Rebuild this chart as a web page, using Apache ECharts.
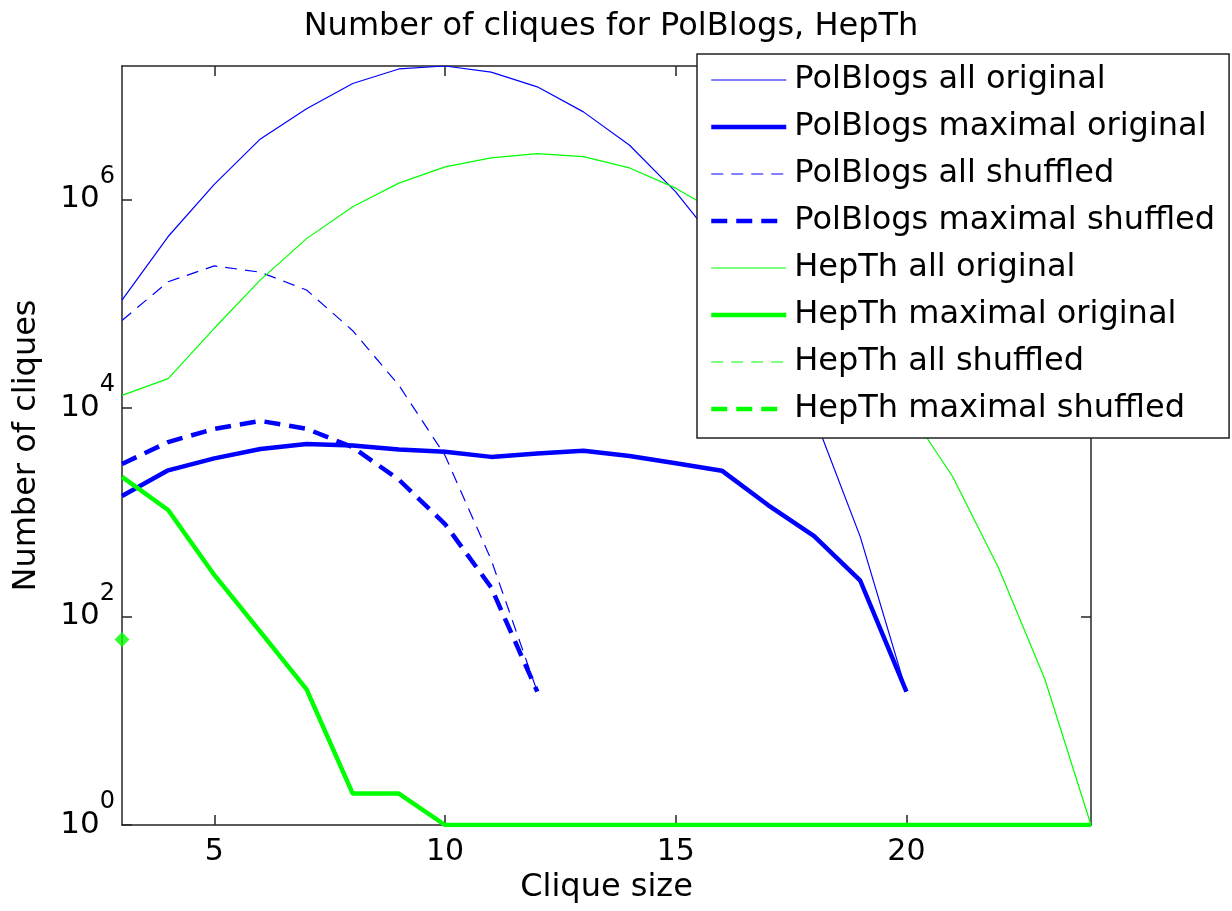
<!DOCTYPE html>
<html>
<head>
<meta charset="utf-8">
<script src="https://cdn.jsdelivr.net/npm/echarts@6/dist/echarts.min.js"></script>
<style>
html,body{margin:0;padding:0;background:#fff;}
#chart{width:1232px;height:911px;}
</style>
</head>
<body>
<div id="chart"></div>
<script>
// Clique sizes
const cliqueSizes = [3,4,5,6,7,8,9,10,11,12,13,14,15,16,17,18,19,20,21,22,23,24];
// Series values (null = no cliques of that size)
const polAllOrig  = [1.08e5,4.4e5,1.39e6,3.8e6,7.4e6,1.29e7,1.78e7,1.9e7,1.66e7,1.2e7,6.9e6,3.3e6,1.18e6,3.3e5,6.6e4,8.3e3,580,19,null,null,null,null];
const polMaxOrig  = [1430,2520,3280,4030,4500,4370,3990,3800,3390,3660,3880,3460,2940,2500,1170,590,220,19,null,null,null,null];
const polAllShuf  = [6.9e4,1.62e5,2.3e5,2.0e5,1.35e5,5.5e4,1.65e4,3.5e3,350,19,null,null,null,null,null,null,null,null,null,null,null,null];
const polMaxShuf  = [2900,4700,6300,7500,6300,4200,2050,770,190,19,null,null,null,null,null,null,null,null,null,null,null,null];
const heAllOrig   = [1.32e4,1.91e4,5.8e4,1.69e5,4.2e5,8.5e5,1.43e6,2.05e6,2.5e6,2.75e6,2.57e6,2.0e6,1.28e6,7.1e5,3.2e5,1.17e5,3.7e4,1.02e4,2.2e3,290,25,1];
const heMaxOrig   = [2180,1050,250,71,20,2,2,1,1,1,1,1,1,1,1,1,1,1,1,1,1,1];
const heAllShuf   = [60,null,null,null,null,null,null,null,null,null,null,null,null,null,null,null,null,null,null,null,null,null];
const heMaxShuf   = [60,null,null,null,null,null,null,null,null,null,null,null,null,null,null,null,null,null,null,null,null,null];
// Tick labels
const xTickValues = [5,10,15,20];
const yMin = 1, yMax = 1.9e7;

const seriesNames = ['PolBlogs all original','PolBlogs maximal original','PolBlogs all shuffled','PolBlogs maximal shuffled',
                     'HepTh all original','HepTh maximal original','HepTh all shuffled','HepTh maximal shuffled'];

const FONT = 'DejaVu Sans';
const BLUE = '#0000ff', GREEN = '#00ff00', AXIS = '#262626';
const THIN = 1.2, THICK = 4.5, DTHIN = [12,8], DTHICK = [16,9];
const seriesStyles = [
  [BLUE, THIN, 'solid'], [BLUE, THICK, 'solid'], [BLUE, THIN, DTHIN], [BLUE, THICK, DTHICK],
  [GREEN, THIN, 'solid'], [GREEN, THICK, 'solid'], [GREEN, THIN, DTHIN], [GREEN, THICK, DTHICK]
];
const seriesValues = [polAllOrig, polMaxOrig, polAllShuf, polMaxShuf, heAllOrig, heMaxOrig, heAllShuf, heMaxShuf];

function pairs(vals){
  const out = [];
  vals.forEach((v,i)=>{ if(v!=null) out.push([cliqueSizes[i], v]); });
  return out;
}
function lineSeries(i){
  const [color, width, dash] = seriesStyles[i];
  return {
    type:'line', name:seriesNames[i], data:pairs(seriesValues[i]), symbol:'none', showSymbol:false,
    xAxisIndex:0, yAxisIndex:0, animation:false,
    lineStyle:{color:color, width:width, type:dash},
    itemStyle:{color:color}, emphasis:{disabled:true}
  };
}

const chart = echarts.init(document.getElementById('chart'), null, {renderer:'canvas'});
const axisLine = {show:true, lineStyle:{color:AXIS, width:1.5}};
const tickStyle = {color:AXIS, width:1.5};

const series = seriesNames.map((n,i)=>lineSeries(i));
series.push({type:'scatter', name:'HepTh shuffled point', data:pairs(heMaxShuf), symbol:'diamond', symbolSize:[15,15],
     itemStyle:{color:GREEN}, clip:false, animation:false, emphasis:{disabled:true}});

chart.setOption({
  backgroundColor:'#fff',
  animation:false,
  title:{
    text:'Number of cliques for PolBlogs, HepTh',
    left:606, top:6, textAlign:'center',
    textStyle:{fontFamily:FONT, fontSize:32, fontWeight:'normal', color:'#000'}
  },
  grid:{left:122, right:141, top:66, bottom:86, containLabel:false, outerBoundsMode:'none'},
  legend:{
    orient:'vertical', left:697, top:54, selectedMode:false,
    backgroundColor:'#fff', borderColor:'#222', borderWidth:1.5, borderRadius:0,
    padding:[10,14,13,12], itemGap:15, itemWidth:75, itemHeight:14,
    textStyle:{fontFamily:FONT, fontSize:32, color:'#000', padding:[0,0,0,3]},
    itemStyle:{opacity:0},
    data:seriesNames.map((n,i)=>({name:n, lineStyle:{color:seriesStyles[i][0], width:seriesStyles[i][1], type:seriesStyles[i][2]}}))
  },
  xAxis:[
    {type:'value', min:3, max:24, position:'bottom',
     axisLine:axisLine,
     axisTick:{show:true, inside:true, length:10, customValues:xTickValues, lineStyle:tickStyle},
     axisLabel:{show:true, customValues:xTickValues, fontFamily:FONT, fontSize:30, color:'#000', margin:12},
     splitLine:{show:false},
     name:'Clique size', nameLocation:'middle', nameGap:41,
     nameTextStyle:{fontFamily:FONT, fontSize:32, color:'#000'}},
    {type:'value', min:3, max:24, position:'top',
     axisLine:axisLine,
     axisTick:{show:true, inside:true, length:10, customValues:xTickValues, lineStyle:tickStyle},
     axisLabel:{show:false}, splitLine:{show:false}}
  ],
  yAxis:[
    {type:'log', logBase:100, min:yMin, max:yMax, position:'left',
     axisLine:axisLine,
     axisTick:{show:true, inside:true, length:10, lineStyle:tickStyle},
     minorTick:{show:false},
     axisLabel:{show:true, showMaxLabel:false, margin:7,
       formatter:function(v){ const e = Math.round(Math.log10(v)); return '{b|10}{s|' + e + '}'; },
       rich:{
         b:{fontFamily:FONT, fontSize:31, lineHeight:70, color:'#000'},
         s:{fontFamily:FONT, fontSize:24, lineHeight:24, verticalAlign:'top', color:'#000'}
       }},
     splitLine:{show:false},
     name:'Number of cliques', nameLocation:'middle', nameGap:79, nameRotate:90,
     nameTextStyle:{fontFamily:FONT, fontSize:32, color:'#000'}},
    {type:'log', logBase:100, min:yMin, max:yMax, position:'right',
     axisLine:axisLine,
     axisTick:{show:true, inside:true, length:10, lineStyle:tickStyle},
     minorTick:{show:false},
     axisLabel:{show:false}, splitLine:{show:false}}
  ],
  series:series
});
</script>
</body>
</html>
